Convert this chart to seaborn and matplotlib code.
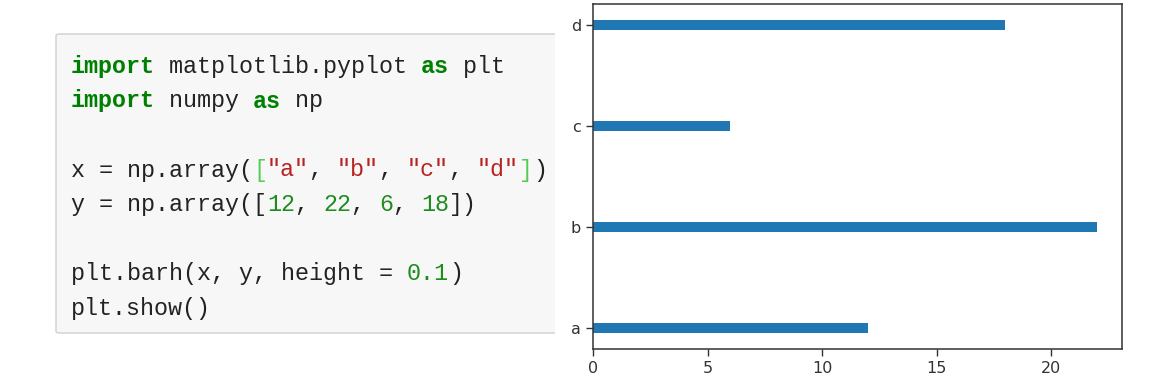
import numpy as np
import pandas as pd
import matplotlib
matplotlib.use("Agg")
import matplotlib.pyplot as plt
from matplotlib.patches import FancyBboxPatch, Rectangle
import seaborn as sns

# chart data
categories = ["a", "b", "c", "d"]
values = [12, 22, 6, 18]
bar_height = 0.1

df = pd.DataFrame({"category": categories, "value": values})

W, H = 1170, 392
fig = plt.figure(figsize=(W / 100, H / 100), dpi=100)
fig.patch.set_facecolor("white")


def fx(px):
    return px / W


def fy(py):
    return 1 - py / H


# code cell box on the left (cut off by the chart image on the right)
box = FancyBboxPatch((fx(56), fy(333)), fx(540), fy(34) - fy(333),
                     boxstyle="round,pad=0,rounding_size=0.004",
                     transform=fig.transFigure, facecolor="#f7f7f7",
                     edgecolor="#cfcfcf", linewidth=1.0, zorder=1)
fig.patches.append(box)
fig.patches.append(Rectangle((fx(555), 0), 1 - fx(555), 1, transform=fig.transFigure,
                             facecolor="white", edgecolor="none", zorder=2))

KW = "#008000"
STR = "#ba2121"
NUM = "#1e8c1e"
BR = "#55cc55"
TXT = "#222222"

code_lines = [
    [("import", KW, "bold"), (" matplotlib.pyplot ", TXT, "normal"), ("as", KW, "bold"), (" plt", TXT, "normal")],
    [("import", KW, "bold"), (" numpy ", TXT, "normal"), ("as", KW, "bold"), (" np", TXT, "normal")],
    [],
    [("x = np.array(", TXT, "normal"), ("[", BR, "normal"), ('"a"', STR, "normal"), (", ", TXT, "normal"),
     ('"b"', STR, "normal"), (", ", TXT, "normal"), ('"c"', STR, "normal"), (", ", TXT, "normal"),
     ('"d"', STR, "normal"), ("]", BR, "normal"), (")", TXT, "normal")],
    [("y = np.array([", TXT, "normal"), ("12", NUM, "normal"), (", ", TXT, "normal"), ("22", NUM, "normal"),
     (", ", TXT, "normal"), ("6", NUM, "normal"), (", ", TXT, "normal"), ("18", NUM, "normal"),
     ("])", TXT, "normal")],
    [],
    [("plt.barh(x, y, height = ", TXT, "normal"), ("0.1", NUM, "normal"), (")", TXT, "normal")],
    [("plt.show()", TXT, "normal")],
]

x0, pitch = 71, 14.0
y0, lead = 73, 34.5
for i, tokens in enumerate(code_lines):
    col = 0
    for text, color, weight in tokens:
        fig.text(fx(x0 + col * pitch), fy(y0 + i * lead), text, color=color,
                 fontweight=weight, family="Liberation Mono", fontsize=16.8,
                 va="baseline", ha="left", zorder=3)
        col += len(text)

# horizontal bar chart
ax = fig.add_axes([fx(593), fy(349), fx(1122) - fx(593), fy(4) - fy(349)])
ax.set_zorder(4)
sns.barplot(data=df, x="value", y="category", orient="h", width=bar_height,
            color="#1f77b4", saturation=1, ax=ax)
n = len(categories)
pad = 0.05 * (n - 1 + bar_height)
ax.set_ylim(-bar_height / 2 - pad, n - 1 + bar_height / 2 + pad)
ax.set_xlim(0, max(values) * 1.05)
ax.set_xticks([0, 5, 10, 15, 20])
ax.set_xlabel("")
ax.set_ylabel("")
ax.tick_params(labelsize=11.5, length=5, width=1, colors="#333333")
for s in ax.spines.values():
    s.set_linewidth(1.1)
    s.set_color("#333333")

fig.savefig("out.png", dpi=100)
